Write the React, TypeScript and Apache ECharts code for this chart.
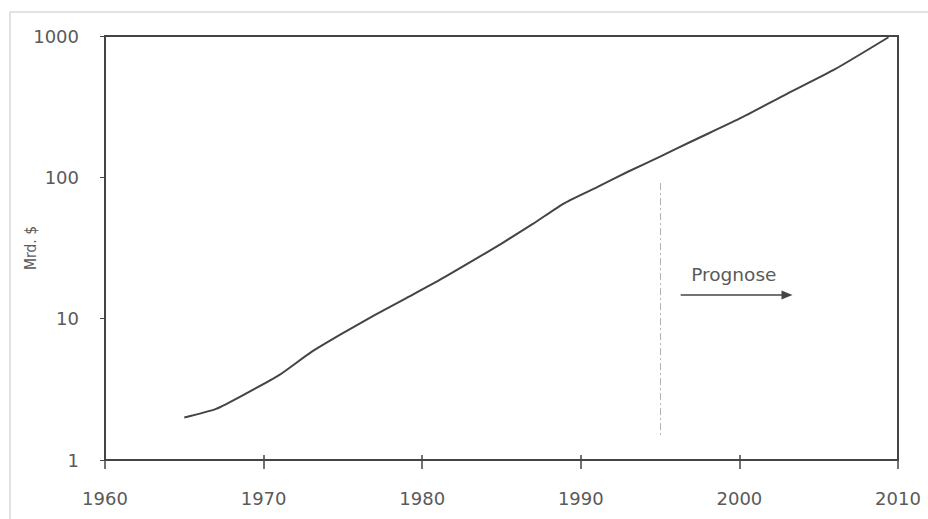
import React, { useEffect, useRef } from "react";
import * as echarts from "echarts";

// Jahre und Werte (Mrd. $), logarithmische Skala
const years = [1965, 1967, 1969, 1971, 1973, 1975, 1977, 1979, 1981, 1983, 1985, 1987, 1989, 1991, 1993, 1995, 1997, 2000, 2003, 2006, 2009.4];
const values = [2.0, 2.3, 3.0, 4.0, 5.8, 7.9, 10.6, 14.0, 18.5, 25, 34, 47, 66, 85, 110, 140, 180, 260, 390, 580, 980];

// Beginn der Prognose
const forecastYear = 1995;
const forecastLineRange = [1.43, 91];
const arrowYears = [1996.3, 2003.0];
const arrowValue = 14.7;
const arrowLabel = "Prognose";

const yName = "Mrd. $";
const xMin = 1960;
const xMax = 2010;
const xStep = 10;

const FONT = "DejaVu Sans";
const TEXT = "#5a5a5a";
const INK = "#444";

export default function App() {
  const ref = useRef<HTMLDivElement>(null);

  useEffect(() => {
    if (!ref.current) return;
    const chart = echarts.init(ref.current, undefined, { renderer: "svg" });
    const data = years.map((y, i) => [y, values[i]]);

    chart.setOption({
      animation: false,
      backgroundColor: "#fff",
      textStyle: { fontFamily: FONT },
      grid: {
        left: 105,
        right: 30,
        top: 36,
        bottom: 59,
        show: true,
        borderColor: INK,
        borderWidth: 2,
        containLabel: false,
        outerBoundsMode: "none",
      },
      graphic: [
        {
          type: "polyline",
          shape: { points: [[10, 519], [10, 12], [928, 12]] },
          style: { stroke: "#c4c4c4", lineWidth: 1, fill: "none" },
          silent: true,
        },
      ],
      xAxis: [
        {
          type: "value",
          min: xMin,
          max: xMax,
          interval: xStep,
          position: "bottom",
          axisLine: { show: true, lineStyle: { color: INK, width: 2 } },
          axisTick: { show: true, inside: false, length: 9, lineStyle: { color: INK, width: 1.5 } },
          axisLabel: {
            color: TEXT,
            fontSize: 18,
            margin: 29,
            fontFamily: FONT,
            formatter: (v: number) => String(v),
          },
          splitLine: { show: false },
        },
        {
          type: "value",
          min: xMin,
          max: xMax,
          interval: xStep,
          position: "bottom",
          axisLine: { show: false },
          axisTick: { show: true, inside: true, length: 5, lineStyle: { color: INK, width: 1.5 } },
          axisLabel: { show: false },
          splitLine: { show: false },
        },
      ],
      yAxis: {
        type: "log",
        logBase: 10,
        min: 1,
        max: 1000,
        name: yName,
        nameLocation: "middle",
        nameGap: 66,
        nameMoveOverlap: false,
        nameTextStyle: { color: TEXT, fontSize: 15.5, fontFamily: "DejaVu Sans Condensed, DejaVu Sans" },
        axisLine: { show: true, lineStyle: { color: INK, width: 2 } },
        axisTick: { show: true, inside: false, length: 5, lineStyle: { color: INK, width: 1 } },
        axisLabel: {
          color: TEXT,
          fontSize: 18,
          margin: 26,
          fontFamily: FONT,
          formatter: (v: number) => String(Math.round(v)),
        },
        splitLine: { show: false },
        minorTick: { show: false },
      },
      series: [
        {
          type: "line",
          data,
          smooth: 0.2,
          showSymbol: false,
          symbol: "none",
          clip: false,
          lineStyle: { color: INK, width: 2 },
          markLine: {
            silent: true,
            data: [
              [
                {
                  coord: [forecastYear, forecastLineRange[1]],
                  symbol: "none",
                  lineStyle: { color: "#b0b0b0", width: 1, type: [7, 3, 2, 3] },
                  label: { show: false },
                },
                { coord: [forecastYear, forecastLineRange[0]], symbol: "none" },
              ],
              [
                {
                  coord: [arrowYears[0], arrowValue],
                  symbol: "none",
                  lineStyle: { color: INK, width: 1.5, type: "solid" },
                  label: {
                    show: true,
                    formatter: arrowLabel,
                    position: "insideMiddleTop",
                    distance: 11,
                    color: TEXT,
                    fontSize: 18.5,
                    fontFamily: FONT,
                  },
                },
                { coord: [arrowYears[1], arrowValue], symbol: "triangle", symbolSize: [9, 11] },
              ],
            ],
          },
        },
      ],
    });

    return () => chart.dispose();
  }, []);

  return (
    <div
      ref={ref}
      style={{ position: "absolute", left: 0, top: 0, width: 928, height: 519 }}
    />
  );
}
